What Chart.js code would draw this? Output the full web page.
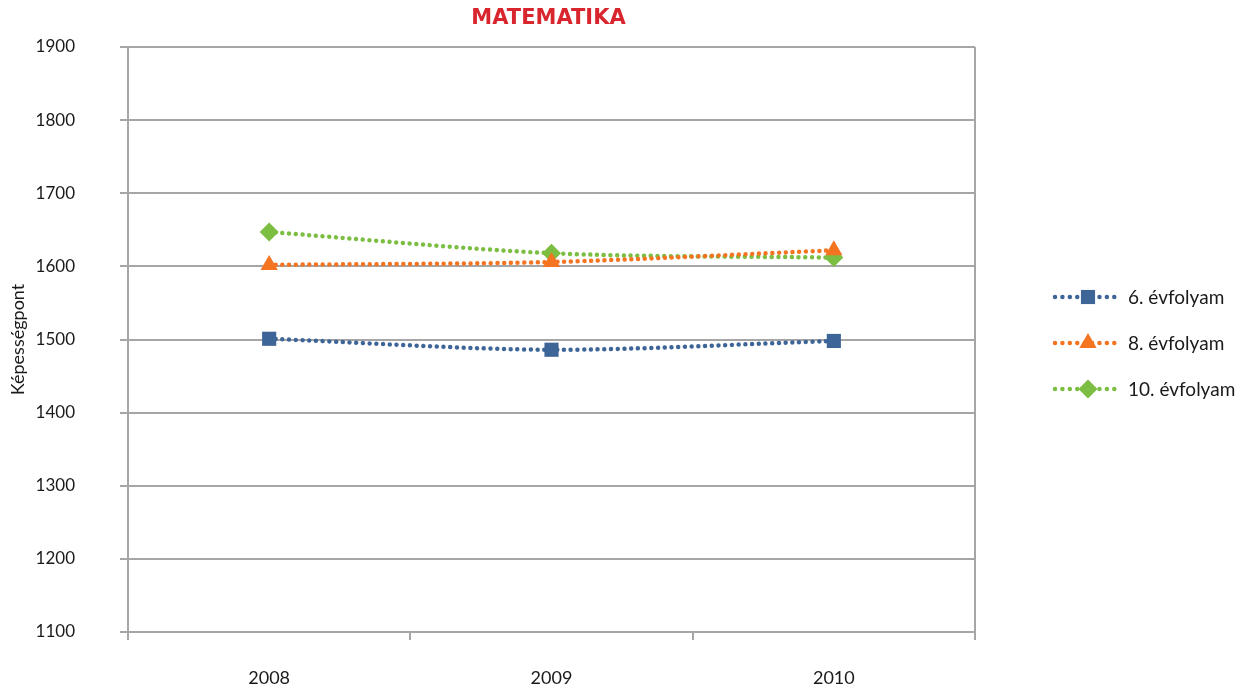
<!DOCTYPE html>
<html>
<head>
<meta charset="utf-8">
<script src="https://cdn.jsdelivr.net/npm/chart.js@4/dist/chart.umd.min.js"></script>
<style>
html,body{margin:0;padding:0;background:#fff;}
#wrap{width:1245px;height:691px;position:relative;}
</style>
</head>
<body>
<div id="wrap"><canvas id="c" width="1245" height="691"></canvas></div>
<script>
const years = ['2008', '2009', '2010'];
const seriesNames = ['6. évfolyam', '8. évfolyam', '10. évfolyam'];
const grade6 = [1501, 1486, 1498];
const grade8 = [1602, 1606, 1622];
const grade10 = [1647, 1618, 1612];
const yTicks = [1100, 1200, 1300, 1400, 1500, 1600, 1700, 1800, 1900];
const chartTitle = 'MATEMATIKA';

const FONT = 'Lato, "Open Sans", "DejaVu Sans", sans-serif';
const colors = ['#3E6598', '#F47421', '#7CBE42'];
const styles = ['rect', 'triangle', 'rectRot'];
const radii = [10, 10, 9.5];
const values = [grade6, grade8, grade10];

const datasets = seriesNames.map((n, i) => ({
  label: n,
  data: values[i],
  borderColor: colors[i],
  backgroundColor: colors[i],
  borderWidth: 4.5,
  borderDash: [0.01, 6.7],
  borderCapStyle: 'round',
  pointStyle: styles[i],
  pointRadius: radii[i],
  pointHoverRadius: radii[i],
  pointBorderWidth: 0,
  pointBackgroundColor: colors[i],
  tension: 0.3,
  fill: false
}));

const extras = {
  id: 'extras',
  afterDraw(chart) {
    const ctx = chart.ctx;
    const a = chart.chartArea;
    ctx.save();
    ctx.strokeStyle = '#A6A6A6';
    ctx.lineWidth = 2;
    ctx.beginPath();
    ctx.moveTo(a.right, a.top);
    ctx.lineTo(a.right, a.bottom);
    ctx.stroke();
    // title
    ctx.fillStyle = '#D9262E';
    ctx.font = 'bold 21px "DejaVu Sans", sans-serif';
    ctx.textAlign = 'center';
    ctx.textBaseline = 'middle';
    ctx.fillText(chartTitle, (a.left + a.right) / 2 - 3, 19);
    // legend
    const rowsY = [297, 343, 389];
    chart.data.datasets.forEach((ds, i) => {
      const y = rowsY[i];
      ctx.strokeStyle = ds.borderColor;
      ctx.lineWidth = 4.5;
      ctx.lineCap = 'round';
      ctx.setLineDash([0.01, 7.4]);
      ctx.beginPath();
      ctx.moveTo(1055, y);
      ctx.lineTo(1120, y);
      ctx.stroke();
      ctx.setLineDash([]);
      ctx.fillStyle = ds.backgroundColor;
      Chart.helpers.drawPoint(ctx, {pointStyle: ds.pointStyle, radius: ds.pointRadius, borderWidth: 0}, 1088, y);
      ctx.fillStyle = '#1a1a1a';
      ctx.font = '19px ' + FONT;
      ctx.textBaseline = 'middle';
      ctx.textAlign = 'left';
      ctx.fillText(ds.label, 1128, y + 1);
    });
    ctx.restore();
  }
};

new Chart(document.getElementById('c'), {
  type: 'line',
  data: { labels: years, datasets },
  plugins: [extras],
  options: {
    responsive: false,
    animation: false,
    devicePixelRatio: 1,
    layout: { padding: { left: 0, right: 270, top: 47, bottom: 0 } },
    plugins: {
      legend: { display: false },
      tooltip: { enabled: false },
      title: { display: false }
    },
    scales: {
      x: {
        type: 'category',
        offset: true,
        grid: {
          offset: true,
          drawOnChartArea: false,
          drawTicks: true,
          tickLength: 8,
          color: '#A6A6A6',
          lineWidth: 2
        },
        border: { color: '#A6A6A6', width: 2 },
        ticks: {
          color: '#1a1a1a',
          font: { family: FONT, size: 18 },
          padding: 27,
          maxRotation: 0
        },
        afterFit(scale) { scale.height = 59; }
      },
      y: {
        min: 1100,
        max: 1900,
        afterBuildTicks(scale) { scale.ticks = yTicks.map(v => ({ value: v })); },
        grid: {
          color: '#A6A6A6',
          lineWidth: 2,
          tickLength: 8,
          drawTicks: true
        },
        border: { color: '#A6A6A6', width: 2 },
        ticks: {
          color: '#1a1a1a',
          font: { family: FONT, size: 17 },
          padding: 45,
          callback: (v) => String(v)
        },
        title: {
          display: true,
          text: 'Képességpont',
          color: '#1a1a1a',
          font: { family: FONT, size: 18 },
          padding: { top: 7, bottom: 0 }
        },
        afterFit(scale) {
          scale.width = 128;
          scale.paddingTop = 0;
          scale.paddingBottom = 0;
        }
      }
    }
  }
});
</script>
</body>
</html>
